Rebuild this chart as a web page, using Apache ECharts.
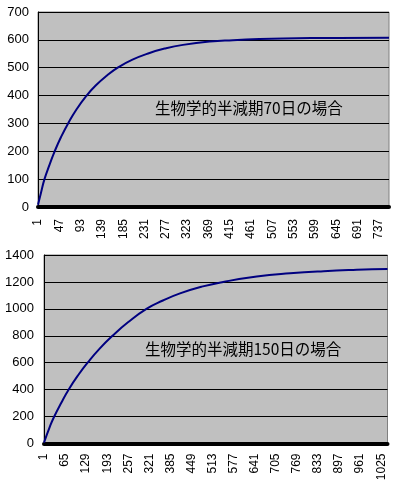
<!DOCTYPE html>
<html>
<head>
<meta charset="utf-8">
<script src="https://cdn.jsdelivr.net/npm/echarts@6/dist/echarts.min.js"></script>
<style>
html,body{margin:0;padding:0;background:#fff;}
#c{width:399px;height:486px;}
</style>
</head>
<body>
<div id="c"></div>
<script>
// Top chart: biological half-life 70 days
const days70 = [1, 8, 15, 26, 37, 51, 66, 84, 105, 125, 150, 174, 205, 242, 275, 314, 372, 422, 480, 531, 650, 759];
const vals70 = [8, 55, 100, 152, 200, 252, 300, 350, 398, 435, 472, 501, 529, 553, 569, 582, 594, 599, 603, 605, 607, 608];
// Bottom chart: biological half-life 150 days
const days150 = [1, 18, 31, 54, 77, 104, 135, 170, 209, 256, 312, 362, 414, 480, 545, 647, 748, 850, 951, 1044];
const vals150 = [7, 120, 195, 305, 405, 505, 605, 705, 800, 900, 1000, 1062, 1115, 1165, 1200, 1240, 1264, 1280, 1290, 1296];
// Axis settings
const xTop = {min: 1, max: 759, interval: 46};
const yTop = {min: 0, max: 700, interval: 100};
const xBot = {min: 1, max: 1044, interval: 64};
const yBot = {min: 0, max: 1400, interval: 200};
const label70 = '生物学的半減期70日の場合';
const label150 = '生物学的半減期150日の場合';

const pairs = (xs, ys) => xs.map((x, i) => [x, ys[i]]);
const chart = echarts.init(document.getElementById('c'), null, {renderer: 'canvas'});
const numFont = '"Liberation Sans", Arial, sans-serif';
const plain = v => String(v);

function xAxisCfg(idx, s, margin) {
  return {
    gridIndex: idx, type: 'value', min: s.min, max: s.max, interval: s.interval,
    axisLine: {show: true, onZero: false, lineStyle: {color: '#000', width: 4}},
    axisTick: {show: false},
    splitLine: {show: false},
    axisLabel: {rotate: 90, margin: margin, fontSize: 12, color: '#000', fontFamily: numFont,
      showMaxLabel: false, showMinLabel: true, formatter: plain}
  };
}
function yAxisCfg(idx, s, margin) {
  return {
    gridIndex: idx, type: 'value', min: s.min, max: s.max, interval: s.interval,
    axisLine: {show: true, lineStyle: {color: '#000', width: 1}},
    axisTick: {show: false},
    splitLine: {show: true, lineStyle: {color: '#000', width: 1}},
    axisLabel: {margin: margin, fontSize: 13, color: '#000', fontFamily: numFont, formatter: plain}
  };
}

chart.setOption({
  animation: false,
  backgroundColor: '#fff',
  grid: [
    {left: 38, top: 12, width: 351, height: 195, show: true, backgroundColor: '#c0c0c0', borderColor: '#808080', borderWidth: 1},
    {left: 44, top: 255, width: 343.5, height: 188.5, show: true, backgroundColor: '#c0c0c0', borderColor: '#808080', borderWidth: 1}
  ],
  xAxis: [xAxisCfg(0, xTop, 12), xAxisCfg(1, xBot, 10)],
  yAxis: [yAxisCfg(0, yTop, 9), yAxisCfg(1, yBot, 10)],
  series: [
    {type: 'line', xAxisIndex: 0, yAxisIndex: 0, data: pairs(days70, vals70), smooth: 0.5,
     showSymbol: false, lineStyle: {color: '#000080', width: 2}, z: 5},
    {type: 'line', xAxisIndex: 1, yAxisIndex: 1, data: pairs(days150, vals150), smooth: 0.5,
     showSymbol: false, lineStyle: {color: '#000080', width: 2}, z: 5}
  ],
  graphic: [
    {type: 'text', left: 155, top: 100, z: 10, style: {text: label70, fill: '#000', font: '15.5px "Noto Sans CJK JP", sans-serif'}},
    {type: 'text', left: 145, top: 341, z: 10, style: {text: label150, fill: '#000', font: '15.5px "Noto Sans CJK JP", sans-serif'}}
  ]
});
</script>
</body>
</html>
